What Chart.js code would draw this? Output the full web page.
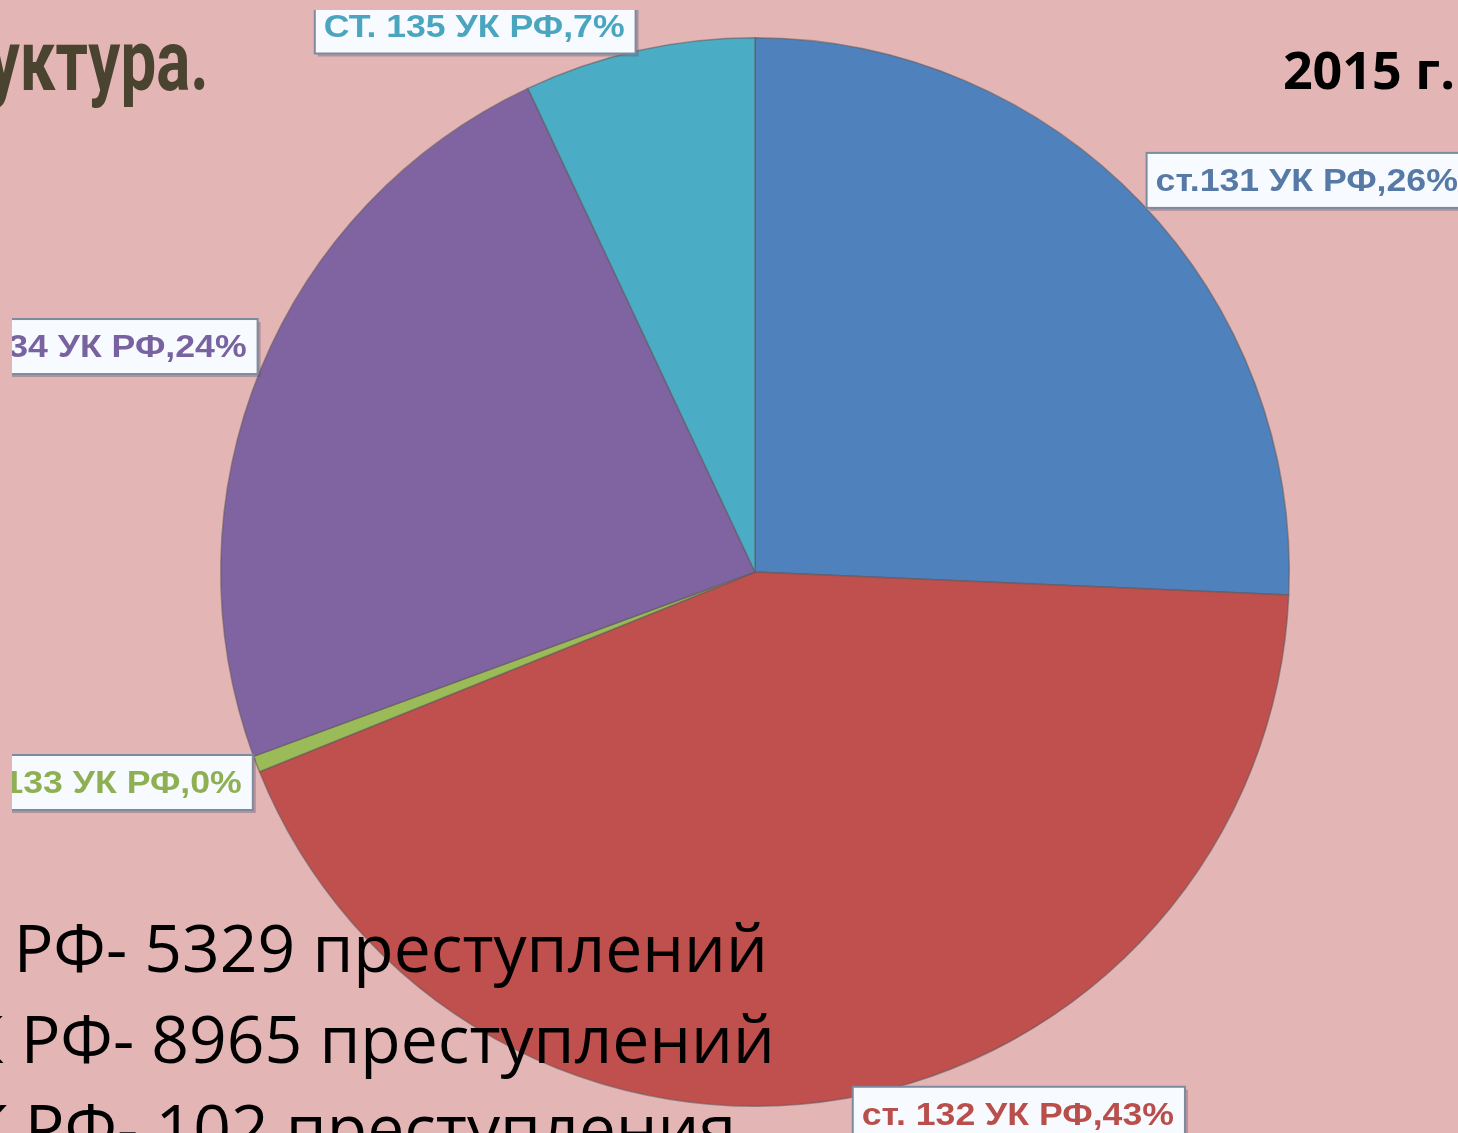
<!DOCTYPE html>
<html>
<head>
<meta charset="utf-8">
<script src="https://cdn.jsdelivr.net/npm/chart.js@4.4.0/dist/chart.umd.min.js"></script>
<style>
html, body { margin: 0; padding: 0; width: 1458px; height: 1133px; overflow: hidden; background: #e4b5b5; }
#pie { position: absolute; left: 0; top: 0; }
.t { position: absolute; white-space: nowrap; line-height: 1; }
#title { right: 1249px; top: 10px; font: bold 86px Roboto, sans-serif; color: #4a4330; transform: scaleX(0.74); transform-origin: right center; }
#year { right: 3px; top: 33px; font: bold 52px "Open Sans", sans-serif; color: #000; }
.line { font: 66px "Open Sans", sans-serif; color: #000; }
#l1 { right: 690px; top: 901px; }
#l2 { right: 683px; top: 992px; }
#l3 { right: 722px; top: 1081px; }
</style>
</head>
<body>
<canvas id="pie" width="1458" height="1133"></canvas>
<div class="t" id="title">Структура.</div>
<div class="t" id="year">2015 г.</div>
<div class="t line" id="l1">ст.131 УК РФ- 5329 преступлений</div>
<div class="t line" id="l2">ст.132 УК РФ- 8965 преступлений</div>
<div class="t line" id="l3">ст.133 УК РФ- 102 преступления</div>
<script>
// статьи УК РФ и число преступлений, 2015 г.
const categories = ['ст.131 УК РФ', 'ст. 132 УК РФ', 'ст. 133 УК РФ', 'ст. 134 УК РФ', 'СТ. 135 УК РФ'];
const crimes = [5329, 8965, 102, 4900, 1450];
const sliceColors = ['#4f81bd', '#c0504d', '#9bbb59', '#8064a2', '#4bacc6'];
const labelColors = ['#5679a6', '#b94f4b', '#8fb052', '#7863a0', '#4aa5bf'];

// label box placement, in units of the pie radius from its centre
const labelPlace = [
	[0.733, -0.733, 'left'],
	[0.183, 1.015, 'left'],
	[-0.940, 0.394, 'right'],
	[-0.931, -0.422, 'right'],
	[-0.824, -1.022, 'left']
];
const stretch = 1.15;

const boxLabels = {
	id: 'boxLabels',
	afterDatasetsDraw(chart) {
		const ctx = chart.ctx;
		const meta = chart.getDatasetMeta(0);
		const total = crimes.reduce((a, b) => a + b, 0);
		ctx.save();
		// the chart picture starts a little inside the slide
		ctx.beginPath();
		ctx.rect(12, 10, chart.width, chart.height);
		ctx.clip();
		meta.data.forEach((arc, i) => {
			const p = arc.getProps(['x', 'y', 'outerRadius'], true);
			const text = categories[i] + ',' + Math.round(crimes[i] / total * 100) + '%';
			ctx.font = 'bold 31px "Liberation Sans", Arial, sans-serif';
			const tw = ctx.measureText(text).width * stretch;
			const w = tw + 20, h = 55;
			let bx = p.x + labelPlace[i][0] * p.outerRadius;
			if (labelPlace[i][2] === 'right') bx -= w;
			const by = p.y + labelPlace[i][1] * p.outerRadius - h / 2;
			ctx.fillStyle = 'rgba(90,80,95,0.35)';
			ctx.fillRect(bx + 3, by + 3, w, h);
			ctx.fillStyle = '#f7fbff';
			ctx.fillRect(bx, by, w, h);
			ctx.strokeStyle = '#7d8aa0';
			ctx.lineWidth = 2;
			ctx.strokeRect(bx, by, w, h);
			ctx.save();
			ctx.translate(bx + 9, by + h / 2 + 2);
			ctx.scale(stretch, 1);
			ctx.fillStyle = labelColors[i];
			ctx.textBaseline = 'middle';
			ctx.fillText(text, 0, 0);
			ctx.restore();
		});
		ctx.restore();
	}
};

new Chart(
	document.getElementById('pie'),
	{
		type: 'pie',
		data: {
			labels: categories,
			datasets: [
				{
					data: crimes,
					backgroundColor: sliceColors,
					borderColor: 'rgba(95,85,90,0.55)',
					borderWidth: 1.5
				}
			]
		},
		options: {
			responsive: false,
			animation: false,
			layout: {
				padding: { left: 220, right: 168, top: 37, bottom: 26 }
			},
			plugins: {
				legend: { display: false },
				tooltip: { enabled: false }
			}
		},
		plugins: [boxLabels]
	}
);
</script>
</body>
</html>
